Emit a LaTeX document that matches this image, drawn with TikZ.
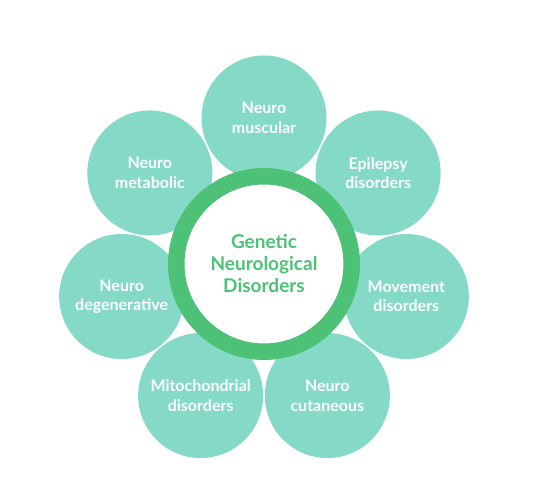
\documentclass[tikz,border=0pt]{standalone}
\usepackage{fontspec}
\setmainfont{Lato}
\usepackage{xcolor}
\usepackage{tikz}
\definecolor{petalteal}{RGB}{132,217,199}
\definecolor{ringgreen}{RGB}{77,193,118}
\tikzset{
  petal/.style={circle, fill=petalteal, minimum size=125pt, inner sep=0pt,
                text=white, align=center, font=\fontsize{16}{19.5}\selectfont\bfseries},
  core/.style={circle, draw=ringgreen, line width=16.5pt, fill=white,
               minimum size=175.5pt, inner sep=0pt, text=ringgreen, align=center,
               font=\fontsize{19}{22}\selectfont\bfseries},
}

\begin{document}
\begin{tikzpicture}[x=1pt, y=1pt]
  \useasboundingbox (-264,-239) rectangle (272,264);
  \node[petal] (muscular) at (90:146) {Neuro\\muscular};
  \node[petal] (metabolic) at (141.43:146) {Neuro\\metabolic};
  \node[petal] (degen) at (192.86:146) {Neuro\\degenerative};
  \node[petal] (mito) at (244.29:146) {Mitochondrial\\disorders};
  \node[petal] (cutaneous) at (295.71:146) {Neuro\\cutaneous};
  \node[petal] (movement) at (347.14:146) {Movement\\disorders};
  \node[petal] (epilepsy) at (38.57:146) {Epilepsy\\disorders};
  \node[core] (gnd) at (0,0) {Genetic\\Neurological\\Disorders};
\end{tikzpicture}
\end{document}
